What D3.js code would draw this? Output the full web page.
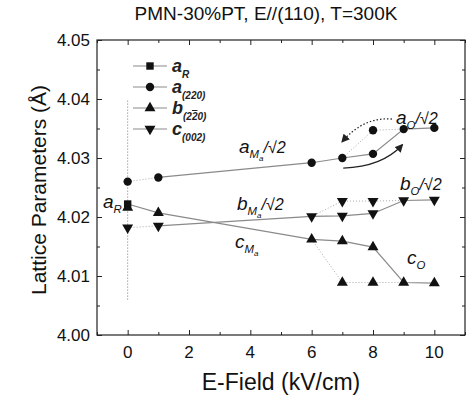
<!DOCTYPE html>
<html>
<head>
<meta charset="utf-8">
<script src="https://cdn.jsdelivr.net/npm/d3@7"></script>
<style>
  body { margin: 0; background: #fff; }
  text { font-family: "Liberation Sans", Arial, sans-serif; }
</style>
</head>
<body>
<div class="chart"></div>
<script>
var svgWidth = 466;
var svgHeight = 403;

var margin = { top: 40, right: 1, bottom: 68, left: 97 };
var width = svgWidth - margin.left - margin.right;
var height = svgHeight - margin.top - margin.bottom;

// E-field values (kV/cm)
var fields = [0, 1, 6, 7, 8, 9, 10];
// a_R (rhombohedral) at zero field
var aR = [{ x: 0, y: 4.0222 }];
// main branches
var a220 = [4.0260, 4.0267, 4.0292, 4.0300, 4.0307, 4.0349, 4.0351];
var b220 = [4.0216, 4.0207, 4.0162, 4.0159, 4.0149, 4.0089, 4.0088];
var c002 = [4.0182, 4.0185, 4.0201, 4.0202, 4.0206, 4.0228, 4.0229];
// second (dotted) branches
var a220Alt = [{ x: 7, y: 4.0300 }, { x: 8, y: 4.0347 }, { x: 9, y: 4.0349 }];
var b220Alt = [{ x: 6, y: 4.0162 }, { x: 7, y: 4.0089 }, { x: 8, y: 4.0089 }, { x: 9, y: 4.0089 }];
var c002Alt = [{ x: 6, y: 4.0201 }, { x: 7, y: 4.0227 }, { x: 8, y: 4.0227 }, { x: 9, y: 4.0228 }];

var xTicks = [0, 2, 4, 6, 8, 10];
var yTicks = [4.00, 4.01, 4.02, 4.03, 4.04, 4.05];

function pts(vals) {
    return fields.map((f, i) => ({ x: f, y: vals[i] }));
}

var svg = d3.select(".chart")
    .append("svg")
    .attr("width", svgWidth)
    .attr("height", svgHeight);

var chartGroup = svg.append("g")
    .attr("transform", `translate(${margin.left}, ${margin.top})`);

var x = d3.scaleLinear().domain([-1, 11]).range([0, width]);
var y = d3.scaleLinear().domain([4.00, 4.05]).range([height, 0]);

// frame
chartGroup.append("rect")
    .attr("width", width).attr("height", height)
    .attr("fill", "none").attr("stroke", "#222").attr("stroke-width", 1.2);

// ticks inward on all sides
var xMinor = d3.range(-1, 12, 1).filter(v => v % 2 !== 0);
var yMinor = d3.range(4.005, 4.05, 0.01);

function tickAxis(axisFn, scale, vals, size, transform) {
    chartGroup.append("g")
        .attr("transform", transform)
        .call(axisFn(scale).tickValues(vals).tickSize(size).tickFormat(""))
        .call(g => g.select(".domain").remove())
        .call(g => g.selectAll("line").attr("stroke", "#222"));
}
tickAxis(d3.axisTop, x, xTicks, 5, `translate(0,${height})`);
tickAxis(d3.axisTop, x, xMinor, 3, `translate(0,${height})`);
tickAxis(d3.axisBottom, x, xTicks, 5, "translate(0,0)");
tickAxis(d3.axisBottom, x, xMinor, 3, "translate(0,0)");
tickAxis(d3.axisRight, y, yTicks, 5, "translate(0,0)");
tickAxis(d3.axisRight, y, yMinor, 3, "translate(0,0)");
tickAxis(d3.axisLeft, y, yTicks, 5, `translate(${width},0)`);
tickAxis(d3.axisLeft, y, yMinor, 3, `translate(${width},0)`);

// tick labels
chartGroup.append("g").selectAll("text")
    .data(xTicks).join("text")
    .attr("x", d => x(d)).attr("y", height + 23)
    .attr("text-anchor", "middle").attr("font-size", 17).attr("fill", "#111")
    .text(d => d);
chartGroup.append("g").selectAll("text")
    .data(yTicks).join("text")
    .attr("x", -7).attr("y", d => y(d) + 6)
    .attr("text-anchor", "end").attr("font-size", 17).attr("fill", "#111")
    .text(d => d.toFixed(2));

// axis titles
svg.append("text")
    .attr("x", 281).attr("y", 390)
    .attr("text-anchor", "middle").attr("font-size", 23).attr("fill", "#111")
    .text("E-Field (kV/cm)");
svg.append("text")
    .attr("transform", "translate(46,190) rotate(-90)")
    .attr("text-anchor", "middle").attr("font-size", 21).attr("fill", "#111")
    .text("Lattice Parameters (Å)");
svg.append("text")
    .attr("x", 266).attr("y", 20)
    .attr("text-anchor", "middle").attr("font-size", 19).attr("fill", "#111")
    .text("PMN-30%PT, E//(110), T=300K");

var line = d3.line().x(d => x(d.x)).y(d => y(d.y));

// vertical dotted line at E = 0
chartGroup.append("path")
    .attr("d", line([{ x: 0, y: 4.006 }, { x: 0, y: 4.040 }]))
    .attr("fill", "none").attr("stroke", "#777").attr("stroke-width", 1)
    .attr("stroke-dasharray", "1,2");

function solid(data) {
    chartGroup.append("path").attr("d", line(data))
        .attr("fill", "none").attr("stroke", "#8a8a8a").attr("stroke-width", 1.2);
}
function dotted(data) {
    chartGroup.append("path").attr("d", line(data))
        .attr("fill", "none").attr("stroke", "#aaa").attr("stroke-width", 1)
        .attr("stroke-dasharray", "1,2");
}

var aPts = pts(a220), bPts = pts(b220), cPts = pts(c002);
dotted(aPts.slice(0, 2));
solid(aPts.slice(1));
dotted(a220Alt);
solid([aR[0]].concat(bPts.slice(1)));
dotted(b220Alt);
dotted(cPts.slice(0, 2));
solid(cPts.slice(1));
dotted(c002Alt);

// markers
var sym = {
    square: d3.symbol().type(d3.symbolSquare).size(55),
    circle: d3.symbol().type(d3.symbolCircle).size(55),
    up: d3.symbol().type(d3.symbolTriangle).size(52),
    down: d3.symbol().type(d3.symbolTriangle).size(52)
};
function markers(data, kind) {
    chartGroup.append("g").selectAll("path")
        .data(data).join("path")
        .attr("d", sym[kind])
        .attr("transform", d => `translate(${x(d.x)},${y(d.y)})` + (kind === "down" ? " rotate(180)" : ""))
        .attr("fill", "#111");
}
markers(cPts.concat(c002Alt.slice(1, 3)), "down");
markers(bPts.concat(b220Alt.slice(1, 3)), "up");
markers(aPts.concat(a220Alt.slice(1, 2)), "circle");
markers(aR, "square");

// curved arrows
var defs = svg.append("defs");
defs.append("marker").attr("id", "head")
    .attr("viewBox", "0 0 10 10").attr("refX", 8).attr("refY", 5)
    .attr("markerWidth", 7).attr("markerHeight", 7).attr("orient", "auto")
    .append("path").attr("d", "M0,0 L10,5 L0,10 Z").attr("fill", "#222");

function curve(p0, c, p1) {
    return `M${x(p0[0])},${y(p0[1])} Q${x(c[0])},${y(c[1])} ${x(p1[0])},${y(p1[1])}`;
}
chartGroup.append("path")
    .attr("d", curve([8.62, 4.0366], [7.7, 4.0370], [7.0, 4.0328]))
    .attr("fill", "none").attr("stroke", "#222").attr("stroke-width", 1.2)
    .attr("stroke-dasharray", "1.5,2").attr("marker-end", "url(#head)");
chartGroup.append("path")
    .attr("d", curve([7.03, 4.0283], [8.3, 4.0285], [8.95, 4.0322]))
    .attr("fill", "none").attr("stroke", "#222").attr("stroke-width", 1.2)
    .attr("marker-end", "url(#head)");

// phase labels
function label(px, py, main, sub, subsub, tail, size) {
    var t = svg.append("text").attr("x", px).attr("y", py)
        .attr("font-size", size).attr("font-style", "italic").attr("fill", "#111");
    t.append("tspan").text(main);
    t.append("tspan").attr("font-size", size * 0.6).attr("dy", 5).text(sub);
    if (subsub) t.append("tspan").attr("font-size", size * 0.42).attr("dy", 3).text(subsub);
    if (tail) t.append("tspan").attr("font-size", size * 0.85).attr("dy", subsub ? -8 : -5).text(tail);
}
label(103, 208, "a", "R", null, null, 19);
label(239, 153, "a", "M", "a", "/√2", 19);
label(237, 210, "b", "M", "a", "/√2", 19);
label(235, 248, "c", "M", "a", null, 19);
label(396, 124, "a", "O", null, "/√2", 19);
label(400, 190, "b", "O", null, "/√2", 19);
label(407, 264, "c", "O", null, null, 19);

// legend: subscript split into [before, overlined, after]
var legendItems = [
    { kind: "square", main: "a", sub: ["R", "", ""] },
    { kind: "circle", main: "a", sub: ["(220)", "", ""] },
    { kind: "up", main: "b", sub: ["(2", "2", "0)"] },
    { kind: "down", main: "c", sub: ["(002)", "", ""] }
];
var legend = svg.append("g");
legendItems.forEach((d, i) => {
    var ly = 66 + i * 21;
    legend.append("line").attr("x1", 133).attr("x2", 167).attr("y1", ly).attr("y2", ly)
        .attr("stroke", "#8a8a8a").attr("stroke-width", 1.2);
    legend.append("path").attr("d", sym[d.kind])
        .attr("transform", `translate(150,${ly})` + (d.kind === "down" ? " rotate(180)" : ""))
        .attr("fill", "#111");
    var t = legend.append("text").attr("x", 172).attr("y", ly + 6)
        .attr("font-size", 18).attr("font-style", "italic").attr("font-weight", "bold").attr("fill", "#222");
    t.append("tspan").text(d.main);
    var s = t.append("tspan").attr("font-size", 10).attr("dy", 6);
    s.append("tspan").text(d.sub[0]);
    if (d.sub[1]) s.append("tspan").style("text-decoration", "overline").text(d.sub[1]);
    if (d.sub[2]) s.append("tspan").text(d.sub[2]);
});
</script>
</body>
</html>
